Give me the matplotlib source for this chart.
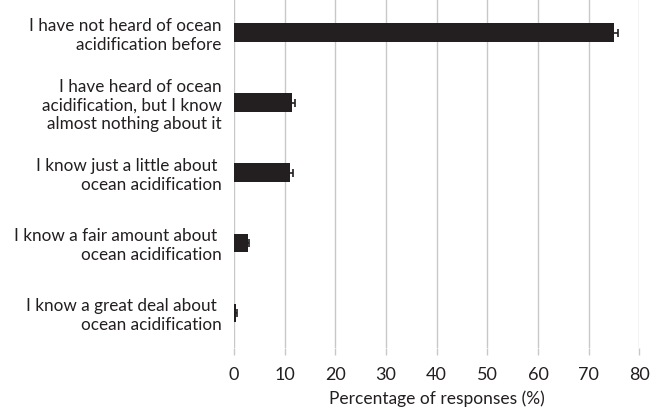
import matplotlib.pyplot as plt

# categories top to bottom
labels = ["I have not heard of ocean\nacidification before",
          "I have heard of ocean\nacidification, but I know\nalmost nothing about it",
          "I know just a little about \nocean acidification",
          "I know a fair amount about \nocean acidification",
          "I know a great deal about \nocean acidification"]
values = [75.0, 11.4, 11.0, 2.7, 0.3]
errors = [0.85, 0.65, 0.6, 0.3, 0.2]
xticks = [0, 10, 20, 30, 40, 50, 60, 70, 80]

plt.rcParams['font.family'] = ['Lato', 'DejaVu Sans']
txt = '#231f20'

fig = plt.figure(figsize=(6.51, 4.07), dpi=100)
ax = fig.add_axes([234/651, 1 - 348/407, (639.3 - 234)/651, 348/407])

pos = range(len(labels))
ax.barh(pos, values, height=0.27, color='#231f20', zorder=3,
        xerr=errors, error_kw=dict(ecolor='#231f20', elinewidth=1.2, capsize=3.2, capthick=1.2))

ax.set_xlim(0, 80)
ax.set_ylim(4.5, -0.47)
ax.set_xticks(xticks)
ax.set_xticklabels([str(t) for t in xticks])
ax.set_yticks(list(pos))
ax.set_yticklabels(labels, ha='right', fontsize=12.3, color=txt, linespacing=1.17)
ax.grid(axis='x', color='#c8c8c8', linewidth=1.0, zorder=0)
for s in ax.spines.values():
    s.set_visible(False)
ax.tick_params(axis='y', length=0, pad=9)
ax.tick_params(axis='x', length=5, color='#c8c8c8', width=1.0, labelsize=13, labelcolor=txt, pad=9)
ax.set_xlabel("Percentage of responses (%)", fontsize=12.5, color=txt, labelpad=5)

fig.savefig("out.png", dpi=100)
